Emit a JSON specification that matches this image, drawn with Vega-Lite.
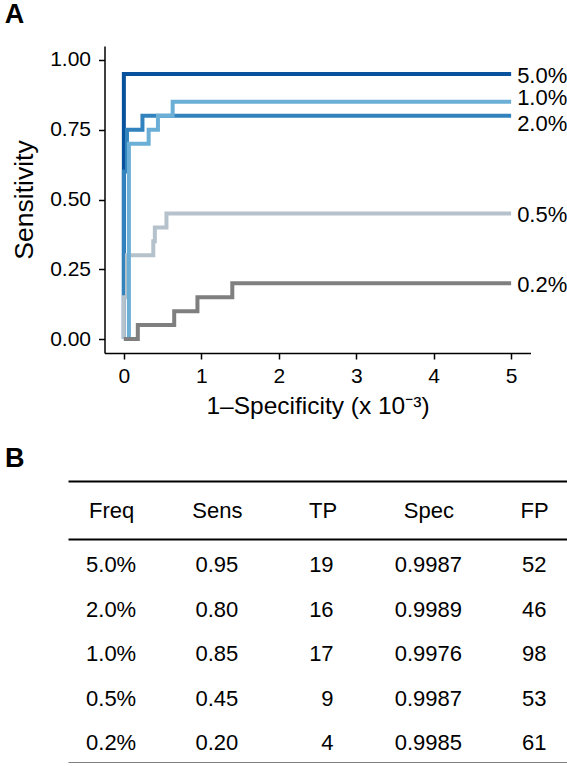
{
  "$schema": "https://vega.github.io/schema/vega-lite/v6.json",
  "padding": {"left": 4, "top": 1, "right": 0, "bottom": 0},
  "config": {"font": "Liberation Sans", "view": {"stroke": null}},
  "datasets": {
    "roc": [
      {"freq": "5.0%", "step": 1, "fpr": 0, "sens": 0},
      {"freq": "5.0%", "step": 2, "fpr": 0, "sens": 0.95},
      {"freq": "5.0%", "step": 3, "fpr": 5, "sens": 0.95},
      {"freq": "2.0%", "step": 1, "fpr": 0, "sens": 0},
      {"freq": "2.0%", "step": 2, "fpr": 0, "sens": 0.6},
      {"freq": "2.0%", "step": 3, "fpr": 0.04, "sens": 0.75},
      {"freq": "2.0%", "step": 4, "fpr": 0.24, "sens": 0.8},
      {"freq": "2.0%", "step": 5, "fpr": 5, "sens": 0.8},
      {"freq": "0.5%", "step": 1, "fpr": 0, "sens": 0},
      {"freq": "0.5%", "step": 2, "fpr": 0, "sens": 0.15},
      {"freq": "0.5%", "step": 3, "fpr": 0.04, "sens": 0.3},
      {"freq": "0.5%", "step": 4, "fpr": 0.38, "sens": 0.35},
      {"freq": "0.5%", "step": 5, "fpr": 0.4, "sens": 0.4},
      {"freq": "0.5%", "step": 6, "fpr": 0.55, "sens": 0.45},
      {"freq": "0.5%", "step": 7, "fpr": 5, "sens": 0.45},
      {"freq": "1.0%", "step": 1, "fpr": 0, "sens": 0},
      {"freq": "1.0%", "step": 2, "fpr": 0.065, "sens": 0.7},
      {"freq": "1.0%", "step": 3, "fpr": 0.32, "sens": 0.75},
      {"freq": "1.0%", "step": 4, "fpr": 0.44, "sens": 0.8},
      {"freq": "1.0%", "step": 5, "fpr": 0.63, "sens": 0.85},
      {"freq": "1.0%", "step": 6, "fpr": 5, "sens": 0.85},
      {"freq": "0.2%", "step": 1, "fpr": 0, "sens": 0},
      {"freq": "0.2%", "step": 2, "fpr": 0.18, "sens": 0.05},
      {"freq": "0.2%", "step": 3, "fpr": 0.65, "sens": 0.1},
      {"freq": "0.2%", "step": 4, "fpr": 0.95, "sens": 0.15},
      {"freq": "0.2%", "step": 5, "fpr": 1.4, "sens": 0.2},
      {"freq": "0.2%", "step": 6, "fpr": 5, "sens": 0.2}
    ],
    "tab": [
      {"Freq": "5.0%", "Sens": 0.95, "TP": 19, "Spec": 0.9987, "FP": 52},
      {"Freq": "2.0%", "Sens": 0.80, "TP": 16, "Spec": 0.9989, "FP": 46},
      {"Freq": "1.0%", "Sens": 0.85, "TP": 17, "Spec": 0.9976, "FP": 98},
      {"Freq": "0.5%", "Sens": 0.45, "TP": 9, "Spec": 0.9987, "FP": 53},
      {"Freq": "0.2%", "Sens": 0.20, "TP": 4, "Spec": 0.9985, "FP": 61}
    ]
  },
  "spacing": 27,
  "vconcat": [
    {
      "width": 464,
      "height": 307,
      "title": {"text": "A", "anchor": "start", "frame": "bounds", "fontSize": 27, "fontWeight": "bold", "color": "black", "dx": -7, "offset": 17},
      "data": {"name": "roc"},
      "encoding": {
        "x": {
          "field": "fpr", "type": "quantitative",
          "scale": {"domain": [-0.25, 5.25], "range": [36.5, 462.5], "nice": false, "zero": false},
          "axis": {
            "values": [0, 1, 2, 3, 4, 5], "title": "1–Specificity (x 10⁻³)", "grid": false,
            "domainColor": "black", "domainWidth": 1.5, "tickColor": "black", "tickWidth": 1.5, "tickSize": 6,
            "labelFontSize": 21, "labelColor": "black", "labelPadding": 6,
            "titleFontSize": 24.5, "titleFontWeight": "normal", "titleColor": "black", "titlePadding": 8
          }
        },
        "y": {
          "field": "sens", "type": "quantitative",
          "scale": {"domain": [-0.05, 1.05], "nice": false, "zero": false},
          "axis": {
            "offset": -36.5,
            "values": [0, 0.25, 0.5, 0.75, 1], "format": ".2f", "title": "Sensitivity", "grid": false,
            "domainColor": "black", "domainWidth": 1.5, "tickColor": "black", "tickWidth": 1.5, "tickSize": 6,
            "labelFontSize": 21, "labelColor": "black", "labelPadding": 8,
            "titleFontSize": 26.5, "titleFontWeight": "normal", "titleColor": "black", "titlePadding": 11
          }
        }
      },
      "layer": [
        {
          "mark": {"type": "line", "interpolate": "step-after", "strokeWidth": 4, "strokeCap": "butt", "strokeJoin": "miter"},
          "encoding": {
            "color": {
              "field": "freq", "type": "nominal", "legend": null,
              "scale": {"domain": ["5.0%", "2.0%", "0.5%", "1.0%", "0.2%"], "range": ["#08519c", "#3182bd", "#b5c2cb", "#6baed6", "#7f7f7f"]}
            },
            "order": {"field": "step", "type": "quantitative"}
          }
        },
        {
          "transform": [{"filter": "datum.fpr == 5 && datum.freq != '1.0%' && datum.freq != '2.0%'"}],
          "mark": {"type": "text", "align": "left", "baseline": "middle", "dx": 6, "dy": 2, "fontSize": 22, "color": "black"},
          "encoding": {"text": {"field": "freq"}}
        },
        {
          "transform": [{"filter": "datum.fpr == 5 && datum.freq == '1.0%'"}],
          "mark": {"type": "text", "align": "left", "baseline": "middle", "dx": 6, "dy": -4, "fontSize": 22, "color": "black"},
          "encoding": {"text": {"field": "freq"}}
        },
        {
          "transform": [{"filter": "datum.fpr == 5 && datum.freq == '2.0%'"}],
          "mark": {"type": "text", "align": "left", "baseline": "middle", "dx": 6, "dy": 8, "fontSize": 22, "color": "black"},
          "encoding": {"text": {"field": "freq"}}
        }
      ]
    },
    {
      "width": 500,
      "height": 224,
      "title": {"text": "B", "anchor": "start", "frame": "group", "fontSize": 27, "fontWeight": "bold", "color": "black", "dx": -63, "offset": 8},
      "data": {"name": "tab"},
      "resolve": {"axis": {"x": "independent"}},
      "encoding": {
        "y": {
          "field": "Freq", "type": "nominal", "axis": null,
          "scale": {"type": "point", "domain": ["5.0%", "2.0%", "1.0%", "0.5%", "0.2%"], "padding": 0.517, "align": 0.57}
        }
      },
      "layer": [
        {
          "mark": {"type": "text", "fontSize": 22, "color": "black", "baseline": "middle"},
          "encoding": {
            "x": {
              "datum": "Freq", "type": "nominal",
              "scale": {"type": "point", "domain": ["Freq", "Sens", "TP", "Spec", "FP"], "padding": 0.364, "align": 0.56},
              "axis": {"orient": "top", "title": null, "ticks": false, "tickSize": 0, "labelPadding": 29, "labelBaseline": "middle", "labelAngle": 0, "labelFontSize": 22, "labelColor": "black", "domainColor": "black", "domainWidth": 2}
            },
            "text": {"field": "Freq", "type": "nominal"}
          }
        },
        {
          "mark": {"type": "text", "fontSize": 22, "color": "black", "baseline": "middle"},
          "encoding": {
            "x": {
              "datum": "Sens", "type": "nominal",
              "scale": {"type": "point", "domain": ["Freq", "Sens", "TP", "Spec", "FP"], "padding": 0.364, "align": 0.56},
              "axis": {"orient": "top", "offset": 58, "title": null, "ticks": false, "labels": false, "domainColor": "black", "domainWidth": 2}
            },
            "text": {"field": "Sens", "type": "quantitative", "format": ".2f"}
          }
        },
        {
          "mark": {"type": "text", "fontSize": 22, "color": "black", "baseline": "middle", "align": "right", "dx": 11},
          "encoding": {
            "x": {
              "datum": "TP", "type": "nominal",
              "scale": {"type": "point", "domain": ["Freq", "Sens", "TP", "Spec", "FP"], "padding": 0.364, "align": 0.56},
              "axis": null
            },
            "text": {"field": "TP", "type": "quantitative"}
          }
        },
        {
          "mark": {"type": "text", "fontSize": 22, "color": "black", "baseline": "middle"},
          "encoding": {
            "x": {
              "datum": "Spec", "type": "nominal",
              "scale": {"type": "point", "domain": ["Freq", "Sens", "TP", "Spec", "FP"], "padding": 0.364, "align": 0.56},
              "axis": {"orient": "bottom", "title": null, "ticks": false, "labels": false, "domainColor": "black", "domainWidth": 2}
            },
            "text": {"field": "Spec", "type": "quantitative", "format": ".4f"}
          }
        },
        {
          "mark": {"type": "text", "fontSize": 22, "color": "black", "baseline": "middle"},
          "encoding": {
            "x": {
              "datum": "FP", "type": "nominal",
              "scale": {"type": "point", "domain": ["Freq", "Sens", "TP", "Spec", "FP"], "padding": 0.364, "align": 0.56},
              "axis": null
            },
            "text": {"field": "FP", "type": "quantitative"}
          }
        }
      ]
    }
  ]
}
